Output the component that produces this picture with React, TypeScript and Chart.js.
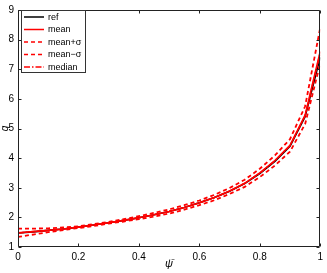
import React, { useEffect, useRef } from "react";
import { Chart, registerables } from "chart.js";

Chart.register(...registerables);

const psi = [0, 0.05, 0.1, 0.15, 0.2, 0.25, 0.3, 0.35, 0.4, 0.45, 0.5, 0.55, 0.6, 0.65, 0.7, 0.75, 0.8, 0.85, 0.9, 0.95, 1.0];
const refQ = [1.47, 1.51, 1.56, 1.61, 1.67, 1.74, 1.82, 1.9, 1.99, 2.09, 2.2, 2.33, 2.49, 2.67, 2.88, 3.14, 3.48, 3.89, 4.4, 5.4, 7.4];
const meanQ = [1.48, 1.52, 1.56, 1.61, 1.67, 1.74, 1.82, 1.9, 1.99, 2.09, 2.2, 2.33, 2.49, 2.67, 2.89, 3.15, 3.5, 3.92, 4.43, 5.45, 7.6];
const meanPlusQ = [1.62, 1.62, 1.63, 1.66, 1.7, 1.77, 1.85, 1.94, 2.04, 2.15, 2.27, 2.41, 2.57, 2.76, 2.99, 3.27, 3.64, 4.09, 4.64, 5.75, 8.4];
const meanMinusQ = [1.34, 1.42, 1.5, 1.57, 1.64, 1.71, 1.79, 1.86, 1.94, 2.03, 2.13, 2.26, 2.41, 2.58, 2.79, 3.03, 3.36, 3.75, 4.22, 5.15, 7.2];
const medianQ = [1.47, 1.52, 1.56, 1.61, 1.67, 1.74, 1.82, 1.9, 1.99, 2.09, 2.2, 2.33, 2.49, 2.67, 2.88, 3.15, 3.49, 3.91, 4.42, 5.43, 7.55];
const xTicks = [0, 0.2, 0.4, 0.6, 0.8, 1];
const yTicks = [1, 2, 3, 4, 5, 6, 7, 8, 9];
const legendLabels = ["ref", "mean", "mean+\u03c3", "mean\u2212\u03c3", "median"];

const FONT = "'Liberation Sans', Arial, Helvetica, sans-serif";

const toPts = (ys: number[]) => psi.map((x, i) => ({ x, y: ys[i] }));

export default function App() {
  const ref = useRef<HTMLCanvasElement | null>(null);

  useEffect(() => {
    if (!ref.current) return;
    const styles = [
      { data: refQ, color: "#000000", dash: [] as number[], order: 4, w: 1.6 },
      { data: meanQ, color: "#ff0000", dash: [] as number[], order: 0, w: 1.6 },
      { data: meanPlusQ, color: "#ff0000", dash: [4, 3], order: 1, w: 1.8 },
      { data: meanMinusQ, color: "#ff0000", dash: [4, 3], order: 2, w: 1.8 },
      { data: medianQ, color: "#ff0000", dash: [6, 2, 1.5, 2], order: 3, w: 1.5 },
    ];

    const boxPlugin = {
      id: "matlabBox",
      afterDraw(chart: any) {
        const { ctx, chartArea: a, scales } = chart;
        ctx.save();
        ctx.strokeStyle = "#222";
        ctx.lineWidth = 1;
        const L = Math.round(a.left) + 0.5;
        const R = Math.round(a.right) - 0.5;
        const T = Math.round(a.top) + 0.5;
        const B = Math.round(a.bottom) - 0.5;
        ctx.beginPath();
        ctx.rect(L, T, R - L, B - T);
        ctx.stroke();
        const tl = 3;
        ctx.beginPath();
        xTicks.forEach((v) => {
          const px = Math.round(scales.x.getPixelForValue(v)) + 0.5;
          ctx.moveTo(px, B);
          ctx.lineTo(px, B - tl);
          ctx.moveTo(px, T);
          ctx.lineTo(px, T + tl);
        });
        yTicks.forEach((v) => {
          const py = Math.round(scales.y.getPixelForValue(v)) + 0.5;
          ctx.moveTo(L, py);
          ctx.lineTo(L + tl, py);
          ctx.moveTo(R, py);
          ctx.lineTo(R - tl, py);
        });
        ctx.stroke();

        // axis labels
        ctx.fillStyle = "#000";
        ctx.font = `italic 11px ${FONT}`;
        ctx.textAlign = "center";
        ctx.textBaseline = "middle";
        ctx.fillText("\u03c8\u0304", (a.left + a.right) / 2, 264);
        ctx.save();
        ctx.font = `italic 10px ${FONT}`;
        ctx.translate(5, (a.top + a.bottom) / 2);
        ctx.rotate(-Math.PI / 2);
        ctx.fillText("q", 0, 0);
        ctx.restore();

        // legend
        const lx = 21.5, ly = 10.5, lw = 64, lh = 62;
        ctx.fillStyle = "#fff";
        ctx.fillRect(lx, ly, lw, lh);
        ctx.strokeStyle = "#333";
        ctx.lineWidth = 1;
        ctx.strokeRect(lx, ly, lw, lh);
        ctx.font = `9px ${FONT}`;
        ctx.textAlign = "left";
        ctx.textBaseline = "middle";
        styles.forEach((s, i) => {
          const y = 17 + i * 12.5;
          ctx.strokeStyle = s.color;
          ctx.lineWidth = 1.5;
          ctx.setLineDash(s.dash);
          ctx.beginPath();
          ctx.moveTo(24, y);
          ctx.lineTo(44, y);
          ctx.stroke();
          ctx.setLineDash([]);
          ctx.fillStyle = "#000";
          ctx.fillText(legendLabels[i], 48, y + 0.5);
        });
        ctx.restore();
      },
    };

    const chart = new Chart(ref.current, {
      type: "line",
      data: {
        datasets: styles.map((s, i) => ({
          label: legendLabels[i],
          data: toPts(s.data),
          borderColor: s.color,
          backgroundColor: s.color,
          borderWidth: s.w,
          borderDash: s.dash,
          pointRadius: 0,
          tension: 0,
          order: s.order,
          fill: false,
        })),
      },
      options: {
        animation: false,
        responsive: true,
        maintainAspectRatio: false,
        layout: { padding: { top: 7, right: 5, left: 0, bottom: 0 } },
        plugins: { legend: { display: false }, tooltip: { enabled: false } },
        scales: {
          x: {
            type: "linear",
            min: 0,
            max: 1,
            afterBuildTicks: (s: any) => {
              s.ticks = xTicks.map((v) => ({ value: v }));
            },
            afterFit: (s: any) => {
              s.height = 26;
            },
            grid: { display: false, drawTicks: false, tickLength: 0 },
            border: { display: false },
            ticks: {
              padding: 4,
              color: "#000",
              font: { size: 10, family: FONT },
              maxRotation: 0,
              callback: (v: any) => String(Math.round(Number(v) * 10) / 10),
            },
          },
          y: {
            type: "linear",
            min: 1,
            max: 9,
            afterBuildTicks: (s: any) => {
              s.ticks = yTicks.map((v) => ({ value: v }));
            },
            afterFit: (s: any) => {
              s.width = 18;
            },
            grid: { display: false, drawTicks: false, tickLength: 0 },
            border: { display: false },
            ticks: {
              padding: 4,
              color: "#000",
              font: { size: 10, family: FONT },
              callback: (v: any) => String(v),
            },
          },
        },
      },
      plugins: [boxPlugin],
    });
    return () => chart.destroy();
  }, []);

  return (
    <div style={{ position: "absolute", left: 0, top: 0, width: 327, height: 273, background: "#fff" }}>
      <canvas ref={ref} />
    </div>
  );
}
